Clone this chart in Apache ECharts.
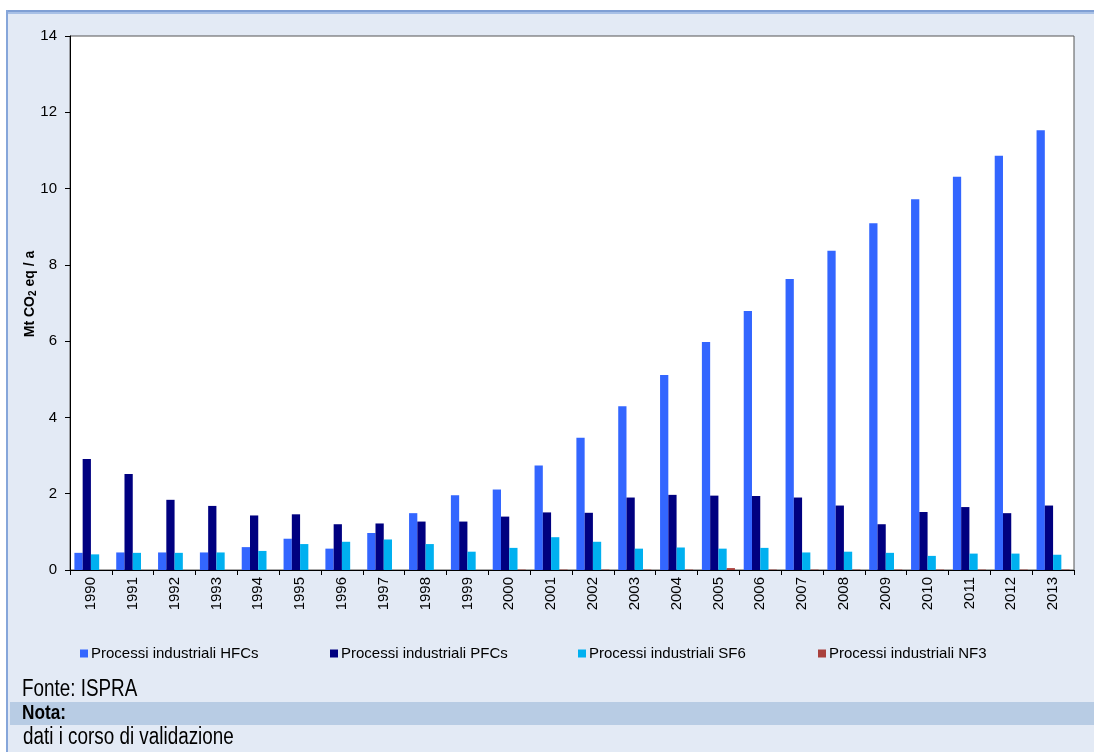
<!DOCTYPE html>
<html>
<head>
<meta charset="utf-8">
<script src="https://cdn.jsdelivr.net/npm/echarts@6/dist/echarts.min.js"></script>
<style>
html,body{margin:0;padding:0;background:#fff;}
#chart{width:1094px;height:752px;}
</style>
</head>
<body>
<div id="chart"></div>
<script>
const years = ['1990','1991','1992','1993','1994','1995','1996','1997','1998','1999','2000','2001','2002','2003','2004','2005','2006','2007','2008','2009','2010','2011','2012','2013'];
const hfcs = [0.45,0.46,0.46,0.46,0.60,0.82,0.56,0.97,1.49,1.96,2.11,2.74,3.47,4.29,5.11,5.98,6.79,7.63,8.37,9.09,9.72,10.31,10.86,11.53];
const pfcs = [2.91,2.52,1.84,1.68,1.43,1.46,1.20,1.22,1.27,1.27,1.40,1.51,1.50,1.90,1.97,1.95,1.94,1.90,1.69,1.20,1.52,1.65,1.49,1.69];
const sf6 = [0.41,0.45,0.45,0.46,0.50,0.68,0.74,0.80,0.68,0.48,0.58,0.86,0.74,0.56,0.59,0.56,0.58,0.46,0.48,0.45,0.37,0.43,0.43,0.40];
const nf3 = [0,0,0,0,0,0,0,0,0,0,0.01,0.01,0.01,0.01,0.01,0.05,0.01,0.01,0.01,0.01,0.01,0.01,0.01,0.01];
const seriesNames = ['Processi industriali HFCs','Processi industriali PFCs','Processi industriali SF6','Processi industriali NF3'];
const yTicks = {min:0, max:14, interval:2};
const yAxisTitle = '{b|Mt CO}{s|2}{b| eq / a}';
const footerSource = 'Fonte: ISPRA';
const footerNoteTitle = 'Nota:';
const footerNote = 'dati i corso di validazione';

const colors = ['#3366FF','#000080','#00B0F0','#A9403C'];
const chart = echarts.init(document.getElementById('chart'), null, {renderer:'canvas'});
const font = '"Liberation Sans", Arial, sans-serif';
const legendLefts = [75, 325, 573, 813];
const dataSets = [hfcs, pfcs, sf6, nf3];

chart.setOption({
  animation:false,
  backgroundColor:'#ffffff',
  graphic:[
    {type:'rect', z:-10, shape:{x:7,y:10,width:1087,height:742}, style:{fill:'#E3EAF5'}},
    {type:'rect', z:-9, shape:{x:7,y:10,width:1087,height:2}, style:{fill:'#7F9FD4'}},
    {type:'rect', z:-9, shape:{x:7,y:12,width:1087,height:2}, style:{fill:'#A8C0E6'}},
    {type:'rect', z:-9, shape:{x:6,y:10,width:2,height:742}, style:{fill:'#86A6DA'}},
    {type:'rect', z:-8, shape:{x:10,y:702,width:1084,height:23}, style:{fill:'#B8CCE4'}},
    {type:'text', x:30, y:294, rotation:Math.PI/2, style:{text:yAxisTitle, align:'center', verticalAlign:'middle',
      rich:{
        b:{fontFamily:font, fontSize:14, fontWeight:'bold', fill:'#000'},
        s:{fontFamily:font, fontSize:10, fontWeight:'bold', fill:'#000', verticalAlign:'bottom', padding:[7,0,0,0]}
      }}},
    {type:'text', x:22, y:690, scaleX:0.82, style:{text:footerSource, font:'23px '+font, fill:'#000', verticalAlign:'middle'}},
    {type:'text', x:22, y:713, scaleX:0.82, style:{text:footerNoteTitle, font:'bold 21px '+font, fill:'#000', verticalAlign:'middle'}},
    {type:'text', x:23, y:738, scaleX:0.82, style:{text:footerNote, font:'23px '+font, fill:'#000', verticalAlign:'middle'}}
  ],
  legend: seriesNames.map((n,i)=>({
    data:[n], left:legendLefts[i], top:641, itemWidth:8, itemHeight:8, icon:'rect', itemGap:4,
    textStyle:{fontFamily:font, fontSize:15, color:'#000', padding:[0,0,0,-2]}
  })),
  grid:{left:70, right:20, top:36, bottom:182, show:true, backgroundColor:'#ffffff', borderColor:'#555', borderWidth:1},
  xAxis:{
    type:'category', data:years,
    axisLine:{show:true, lineStyle:{color:'#000', width:1}},
    axisTick:{show:true, alignWithLabel:false, length:5, lineStyle:{color:'#000'}},
    axisLabel:{rotate:90, fontSize:15, fontFamily:font, color:'#000', margin:7, interval:0},
    splitLine:{show:false}
  },
  yAxis:{
    type:'value', min:yTicks.min, max:yTicks.max, interval:yTicks.interval,
    axisLine:{show:true, lineStyle:{color:'#000', width:1}},
    axisTick:{show:true, length:5, lineStyle:{color:'#000'}},
    axisLabel:{fontSize:15, fontFamily:font, color:'#000', margin:13},
    splitLine:{show:false}
  },
  series: seriesNames.map((n,i)=>({
    name:n, type:'bar', data:dataSets[i], barGap:'0%', barCategoryGap:'21%',
    itemStyle:{color:colors[i]}
  }))
});
</script>
</body>
</html>
